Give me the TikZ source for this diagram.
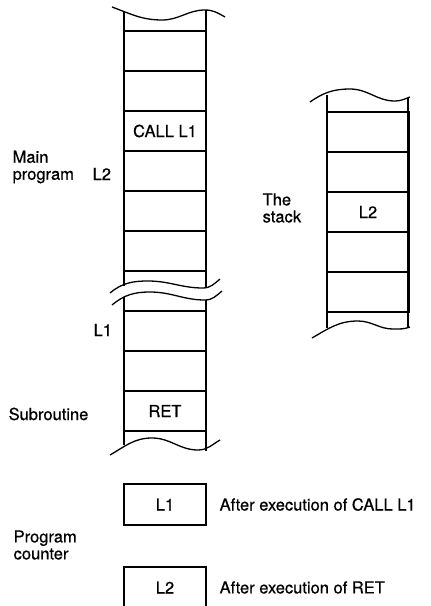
\documentclass[tikz,border=0pt]{standalone}
\usepackage{fontspec}
\setmainfont{TeX Gyre Heros}[FakeBold=0.6]
\usetikzlibrary{positioning}
\begin{document}
\begin{tikzpicture}[x=1pt, y=-1pt, node distance=0pt, line width=1.3pt]
        \tikzstyle{cell}=[draw, rectangle, minimum width=82pt, minimum height=40pt, inner sep=0pt, outer sep=0pt, font=\fontsize{16.5}{17}\selectfont]
        \tikzstyle{lbl}=[anchor=west, align=left, inner sep=0pt, font=\fontsize{16.5}{17}\selectfont]

        \useasboundingbox (0,0) rectangle (431,606);
        \clip (0,0) rectangle (431,606);

        % main program
        \node[cell, anchor=north west] (m1) at (124,31) {};
        \node[cell, below=of m1] (m2) {};
        \node[cell, below=of m2] (call) {CALL L1};
        \node[cell, below=of call] (m4) {};
        \node[cell, below=of m4] (m5) {};
        \node[cell, below=of m5] (m6) {};
        \draw (124,11) -- (124,286) (206,10) -- (206,288);
        \draw (112,7) to[out=-20,in=180] (162,20) to[out=0,in=180] (205,10) to[out=0,in=150] (225,17);
        \draw (110,293) to[out=40,in=180] (148,281) to[out=0,in=180] (203,288) to[out=0,in=220] (220,279);

        % subroutine
        \node[cell, anchor=north west] (s1) at (124,311) {};
        \node[cell, below=of s1] (s2) {};
        \node[cell, below=of s2] (ret) {RET};
        \draw (124,297) -- (124,445) (206,300) -- (206,451);
        \draw (112,305) to[out=40,in=180] (150,292) to[out=0,in=180] (205,300) to[out=0,in=220] (222,291);
        \draw (110,455) to[out=30,in=180] (152,438) to[out=0,in=180] (198,450) to[out=0,in=210] (220,440);

        % the stack
        \node[cell, anchor=north west] (k1) at (327,112) {};
        \node[cell, below=of k1] (k2) {};
        \node[cell, below=of k2] (k3) {L2};
        \node[cell, below=of k3] (k4) {};
        \node[cell, below=of k4] (k5) {};
        \draw (327,95) -- (327,328) (408,98) -- (408,328);
        \draw (310,102) to[out=35,in=180] (350,89) to[out=0,in=180] (395,101) to[out=0,in=200] (410,97);
        \draw (312,338) to[out=30,in=180] (358,321) to[out=0,in=180] (393,329) to[out=0,in=200] (410,327);

        % program counter
        \node[cell, anchor=north west, minimum height=41pt] (pc1) at (124,484) {L1};
        \node[cell, below=42pt of pc1, minimum height=41pt] (pc2) {L2};
        \node[lbl, right=13pt of pc1] (after1) {After execution of CALL L1};
        \node[lbl, right=13pt of pc2] (after2) {After execution of RET};

        % labels
        \node[lbl] (mainlbl) at (12,167) {Main\\program};
        \node[lbl] (l2lbl) at (92,174) {L2};
        \node[lbl] (l1lbl) at (93,330) {L1};
        \node[lbl] (sublbl) at (8,414) {Subroutine};
        \node[lbl] (stacklbl) at (262,208) {The\\stack};
        \node[lbl] (pclbl) at (13,545) {Program\\counter};
\end{tikzpicture}
\end{document}
